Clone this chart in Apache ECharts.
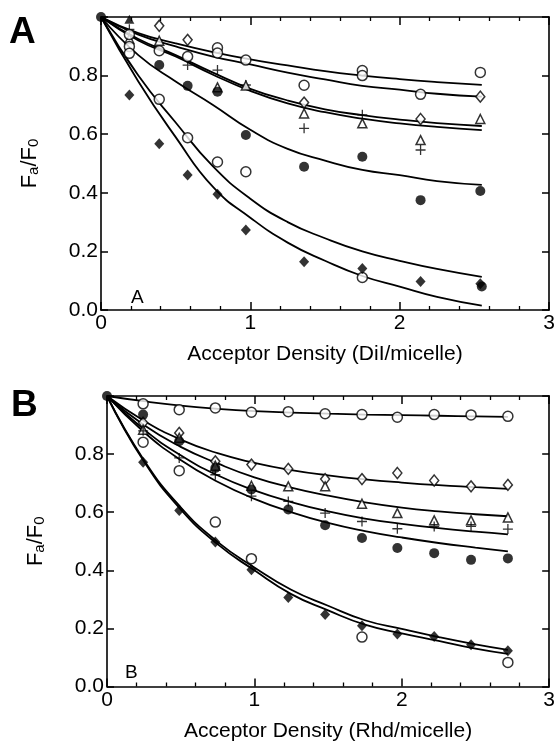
<!DOCTYPE html>
<html>
<head>
<meta charset="utf-8">
<script src="https://cdn.jsdelivr.net/npm/echarts@6/dist/echarts.min.js"></script>
<style>
html,body{margin:0;padding:0;background:#fff;}
#chart{width:558px;height:744px;}
</style>
</head>
<body>
<div id="chart"></div>
<script>
// ---------- Panel A (DiI acceptor) ----------
const aOrigin = [[0, 1.0]];
const aFilledTri = [[0.19, 0.992]];
const aPlus = [[0.19, 0.958], [0.58, 0.836], [0.78, 0.819], [0.97, 0.768], [1.36, 0.620], [1.75, 0.666], [2.14, 0.546]];
const aDiamond = [[0.39, 0.970], [0.58, 0.922], [1.36, 0.708], [2.14, 0.652], [2.54, 0.728]];
const aTriangle = [[0.19, 0.925], [0.39, 0.919], [0.78, 0.760], [0.97, 0.766], [1.36, 0.671], [1.75, 0.637], [2.14, 0.580], [2.54, 0.652]];
const aOpen1 = [[0.19, 0.940], [0.58, 0.865], [0.78, 0.895], [0.97, 0.853], [1.75, 0.817], [2.54, 0.811]];
const aOpen2 = [[0.19, 0.899], [0.39, 0.885], [0.78, 0.877], [1.36, 0.767], [1.75, 0.800], [2.14, 0.736]];
const aFilled = [[0.39, 0.836], [0.58, 0.765], [0.78, 0.745], [0.97, 0.597], [1.36, 0.489], [1.75, 0.523], [2.14, 0.375], [2.54, 0.406], [2.55, 0.080]];
const aOpen3 = [[0.19, 0.876], [0.39, 0.719], [0.58, 0.588], [0.78, 0.505], [0.97, 0.472], [1.75, 0.111]];
const aFilledDia = [[0.19, 0.734], [0.39, 0.567], [0.58, 0.461], [0.78, 0.395], [0.97, 0.273], [1.36, 0.165], [1.75, 0.142], [2.14, 0.097], [2.54, 0.090]];

const aCurveX = [0, 0.25, 0.5, 0.75, 1.0, 1.25, 1.5, 1.75, 2.0, 2.25, 2.55];
const aCurve1 = [1, 0.945, 0.910, 0.880, 0.855, 0.835, 0.815, 0.800, 0.788, 0.778, 0.768];
const aCurve2 = [1, 0.940, 0.900, 0.865, 0.838, 0.810, 0.787, 0.765, 0.752, 0.738, 0.728];
const aCurve3 = [1, 0.925, 0.870, 0.810, 0.755, 0.715, 0.685, 0.665, 0.650, 0.638, 0.628];
const aCurve4 = [1, 0.920, 0.865, 0.803, 0.748, 0.705, 0.675, 0.653, 0.637, 0.625, 0.614];
const aCurve5 = [1, 0.870, 0.780, 0.700, 0.615, 0.550, 0.510, 0.478, 0.460, 0.440, 0.427];
const aCurve6 = [1, 0.800, 0.640, 0.490, 0.380, 0.300, 0.245, 0.200, 0.168, 0.140, 0.113];
const aCurve7 = [1, 0.780, 0.590, 0.420, 0.315, 0.230, 0.168, 0.116, 0.080, 0.045, 0.015];

// ---------- Panel B (Rhd acceptor) ----------
const bOrigin = [[0, 1.0]];
const bX = [0.245, 0.49, 0.735, 0.98, 1.23, 1.48, 1.73, 1.97, 2.22, 2.47, 2.72];
const bOpenTop = [0.973, 0.953, 0.959, 0.944, 0.946, 0.939, 0.936, 0.927, 0.936, 0.935, 0.930];
const bDiamond = [0.908, 0.873, 0.775, 0.764, 0.749, 0.714, 0.714, 0.735, 0.709, 0.689, 0.694];
const bTriangle = [0.884, 0.856, 0.760, 0.691, 0.689, 0.689, 0.629, 0.597, 0.572, 0.572, 0.582];
const bPlus = [0.880, 0.787, 0.729, 0.655, 0.637, 0.597, 0.568, 0.543, 0.551, 0.551, 0.542];
const bFilled = [0.936, 0.844, 0.752, 0.678, 0.609, 0.555, 0.511, 0.477, 0.459, 0.436, 0.441];
const bFilledDia = [0.772, 0.606, 0.497, 0.402, 0.306, 0.248, 0.209, 0.181, 0.172, 0.144, 0.123];
const bOpenLow = [[0.245, 0.841], [0.49, 0.743], [0.735, 0.566], [0.98, 0.440], [1.73, 0.170], [2.72, 0.083]];

const bCurveX = [0, 0.25, 0.5, 0.75, 1.0, 1.25, 1.5, 1.75, 2.0, 2.25, 2.5, 2.72];
const bCurveTop = [1, 0.982, 0.967, 0.956, 0.948, 0.943, 0.939, 0.936, 0.934, 0.932, 0.930, 0.928];
const bCurveDia = [1, 0.915, 0.850, 0.803, 0.770, 0.745, 0.727, 0.713, 0.702, 0.693, 0.686, 0.680];
const bCurveTri = [1, 0.900, 0.825, 0.768, 0.720, 0.685, 0.657, 0.634, 0.616, 0.603, 0.593, 0.586];
const bCurvePlus = [1, 0.885, 0.796, 0.727, 0.675, 0.635, 0.603, 0.578, 0.560, 0.545, 0.533, 0.524];
const bCurveFilled = [1, 0.876, 0.780, 0.705, 0.646, 0.600, 0.563, 0.535, 0.513, 0.494, 0.478, 0.465];
const bCurveSteep1 = [1, 0.780, 0.617, 0.498, 0.410, 0.333, 0.278, 0.228, 0.198, 0.170, 0.145, 0.126];
const bCurveSteep2 = [1, 0.775, 0.610, 0.490, 0.400, 0.318, 0.262, 0.213, 0.183, 0.157, 0.130, 0.112];

// ---------- axis ticks ----------
const xMin = 0, xMax = 3, xInterval = 1;
const yMin = 0, yMax = 1, yInterval = 0.2;

const FONT = 'Liberation Sans, Arial, Helvetica, sans-serif';
const PLUS = 'path://M0,4.35H10V5.65H0Z M4.35,0H5.65V10H4.35Z';

function zip(xs, ys) { return xs.map((x, i) => [x, ys[i]]); }

const styles = {
  openCircle: { symbol: 'circle', symbolSize: 10, itemStyle: { color: '#fff', borderColor: '#000', borderWidth: 1.5 } },
  filledCircle: { symbol: 'circle', symbolSize: 10, itemStyle: { color: '#000', borderColor: '#000', borderWidth: 0 } },
  openDiamond: { symbol: 'diamond', symbolSize: [9, 11], itemStyle: { color: '#fff', borderColor: '#000', borderWidth: 1.5 } },
  filledDiamond: { symbol: 'diamond', symbolSize: [10, 11], itemStyle: { color: '#000', borderWidth: 0 } },
  openTriangle: { symbol: 'triangle', symbolSize: [9, 9], itemStyle: { color: '#fff', borderColor: '#000', borderWidth: 1.5 } },
  filledTriangle: { symbol: 'triangle', symbolSize: [10, 9], itemStyle: { color: '#000', borderWidth: 0 } },
  plus: { symbol: PLUS, symbolSize: 10, itemStyle: { color: '#000', borderWidth: 0 } }
};

function scatter(g, data, st) {
  return Object.assign({ type: 'scatter', xAxisIndex: g * 2, yAxisIndex: g * 2, data: data, z: 5, silent: true }, st);
}
function curve(g, xs, ys) {
  return { type: 'line', xAxisIndex: g * 2, yAxisIndex: g * 2, data: zip(xs, ys), smooth: 0.5,
    showSymbol: false, symbol: 'none', lineStyle: { color: '#000', width: 1.8 }, z: 3, silent: true };
}

function xAxes(g, title) {
  const common = {
    gridIndex: g, type: 'value', min: xMin, max: xMax, interval: xInterval,
    axisLine: { show: true, onZero: false, lineStyle: { color: '#000', width: 1.6 } },
    axisTick: { show: true, inside: true, length: 8, lineStyle: { color: '#000', width: 1.5 } },
    minorTick: { show: true, splitNumber: 5, length: 4, lineStyle: { color: '#000', width: 1.3 } },
    splitLine: { show: false }, minorSplitLine: { show: false }
  };
  return [
    Object.assign({}, common, {
      position: 'bottom',
      axisLabel: { color: '#000', fontSize: 21, fontFamily: FONT, margin: 3 },
      name: title, nameLocation: 'middle', nameGap: 34,
      nameTextStyle: { color: '#000', fontSize: 21, fontFamily: FONT }
    }),
    Object.assign({}, common, { position: 'top', axisLabel: { show: false } })
  ];
}
function yAxes(g) {
  const common = {
    gridIndex: g, type: 'value', min: yMin, max: yMax, interval: yInterval,
    axisLine: { show: true, onZero: false, lineStyle: { color: '#000', width: 1.6 } },
    axisTick: { show: true, inside: true, length: 7, lineStyle: { color: '#000', width: 1.5 } },
    splitLine: { show: false }
  };
  return [
    Object.assign({}, common, {
      position: 'left',
      axisLabel: { color: '#000', fontSize: 21, fontFamily: FONT, margin: 3,
        formatter: v => (v >= 0.999 ? '' : v.toFixed(1)) },
      name: '{f|F}{s|a}{f|/F}{s|0}', nameLocation: 'middle', nameRotate: 90, nameGap: 60,
      nameTextStyle: {
        color: '#000', fontFamily: FONT,
        rich: {
          f: { fontSize: 22, fontFamily: FONT, color: '#000', lineHeight: 22, verticalAlign: 'top' },
          s: { fontSize: 15, fontFamily: FONT, color: '#000', lineHeight: 15, padding: [13, 0, 0, 0], verticalAlign: 'bottom' }
        }
      }
    }),
    Object.assign({}, common, { position: 'right', axisLabel: { show: false } })
  ];
}

const option = {
  backgroundColor: '#fff',
  animation: false,
  grid: [
    { left: 101, top: 17, width: 448, height: 293 },
    { left: 107, top: 396, width: 444, height: 290.5 }
  ],
  xAxis: [].concat(xAxes(0, 'Acceptor Density (DiI/micelle)'), xAxes(1, 'Acceptor Density (Rhd/micelle)')),
  yAxis: [].concat(yAxes(0), yAxes(1)),
  graphic: [
    { type: 'text', left: 9, top: 14, style: { text: 'A', fontSize: 37, fontWeight: 'bold', fontFamily: FONT, fill: '#000' } },
    { type: 'text', left: 11, top: 387, style: { text: 'B', fontSize: 37, fontWeight: 'bold', fontFamily: FONT, fill: '#000' } },
    { type: 'text', left: 131, top: 288, style: { text: 'A', fontSize: 19, fontFamily: FONT, fill: '#000' } },
    { type: 'text', left: 125, top: 663, style: { text: 'B', fontSize: 19, fontFamily: FONT, fill: '#000' } }
  ],
  series: [
    curve(0, aCurveX, aCurve1), curve(0, aCurveX, aCurve2), curve(0, aCurveX, aCurve3), curve(0, aCurveX, aCurve4),
    curve(0, aCurveX, aCurve5), curve(0, aCurveX, aCurve6), curve(0, aCurveX, aCurve7),
    scatter(0, aFilledTri, styles.filledTriangle),
    scatter(0, aPlus, styles.plus),
    scatter(0, aDiamond, styles.openDiamond),
    scatter(0, aTriangle, styles.openTriangle),
    scatter(0, aOpen1, styles.openCircle),
    scatter(0, aOpen2, styles.openCircle),
    scatter(0, aFilled, styles.filledCircle),
    scatter(0, aOpen3, styles.openCircle),
    scatter(0, aFilledDia, styles.filledDiamond),
    scatter(0, aOrigin, styles.filledCircle),

    curve(1, bCurveX, bCurveTop), curve(1, bCurveX, bCurveDia), curve(1, bCurveX, bCurveTri),
    curve(1, bCurveX, bCurvePlus), curve(1, bCurveX, bCurveFilled),
    curve(1, bCurveX, bCurveSteep1), curve(1, bCurveX, bCurveSteep2),
    scatter(1, zip(bX, bOpenTop), styles.openCircle),
    scatter(1, zip(bX, bDiamond), styles.openDiamond),
    scatter(1, zip(bX, bTriangle), styles.openTriangle),
    scatter(1, zip(bX, bPlus), styles.plus),
    scatter(1, zip(bX, bFilled), styles.filledCircle),
    scatter(1, bOpenLow, styles.openCircle),
    scatter(1, zip(bX, bFilledDia), styles.filledDiamond),
    scatter(1, bOrigin, styles.filledCircle)
  ]
};

const chart = echarts.init(document.getElementById('chart'), null, { renderer: 'canvas' });
chart.setOption(option);
</script>
</body>
</html>
